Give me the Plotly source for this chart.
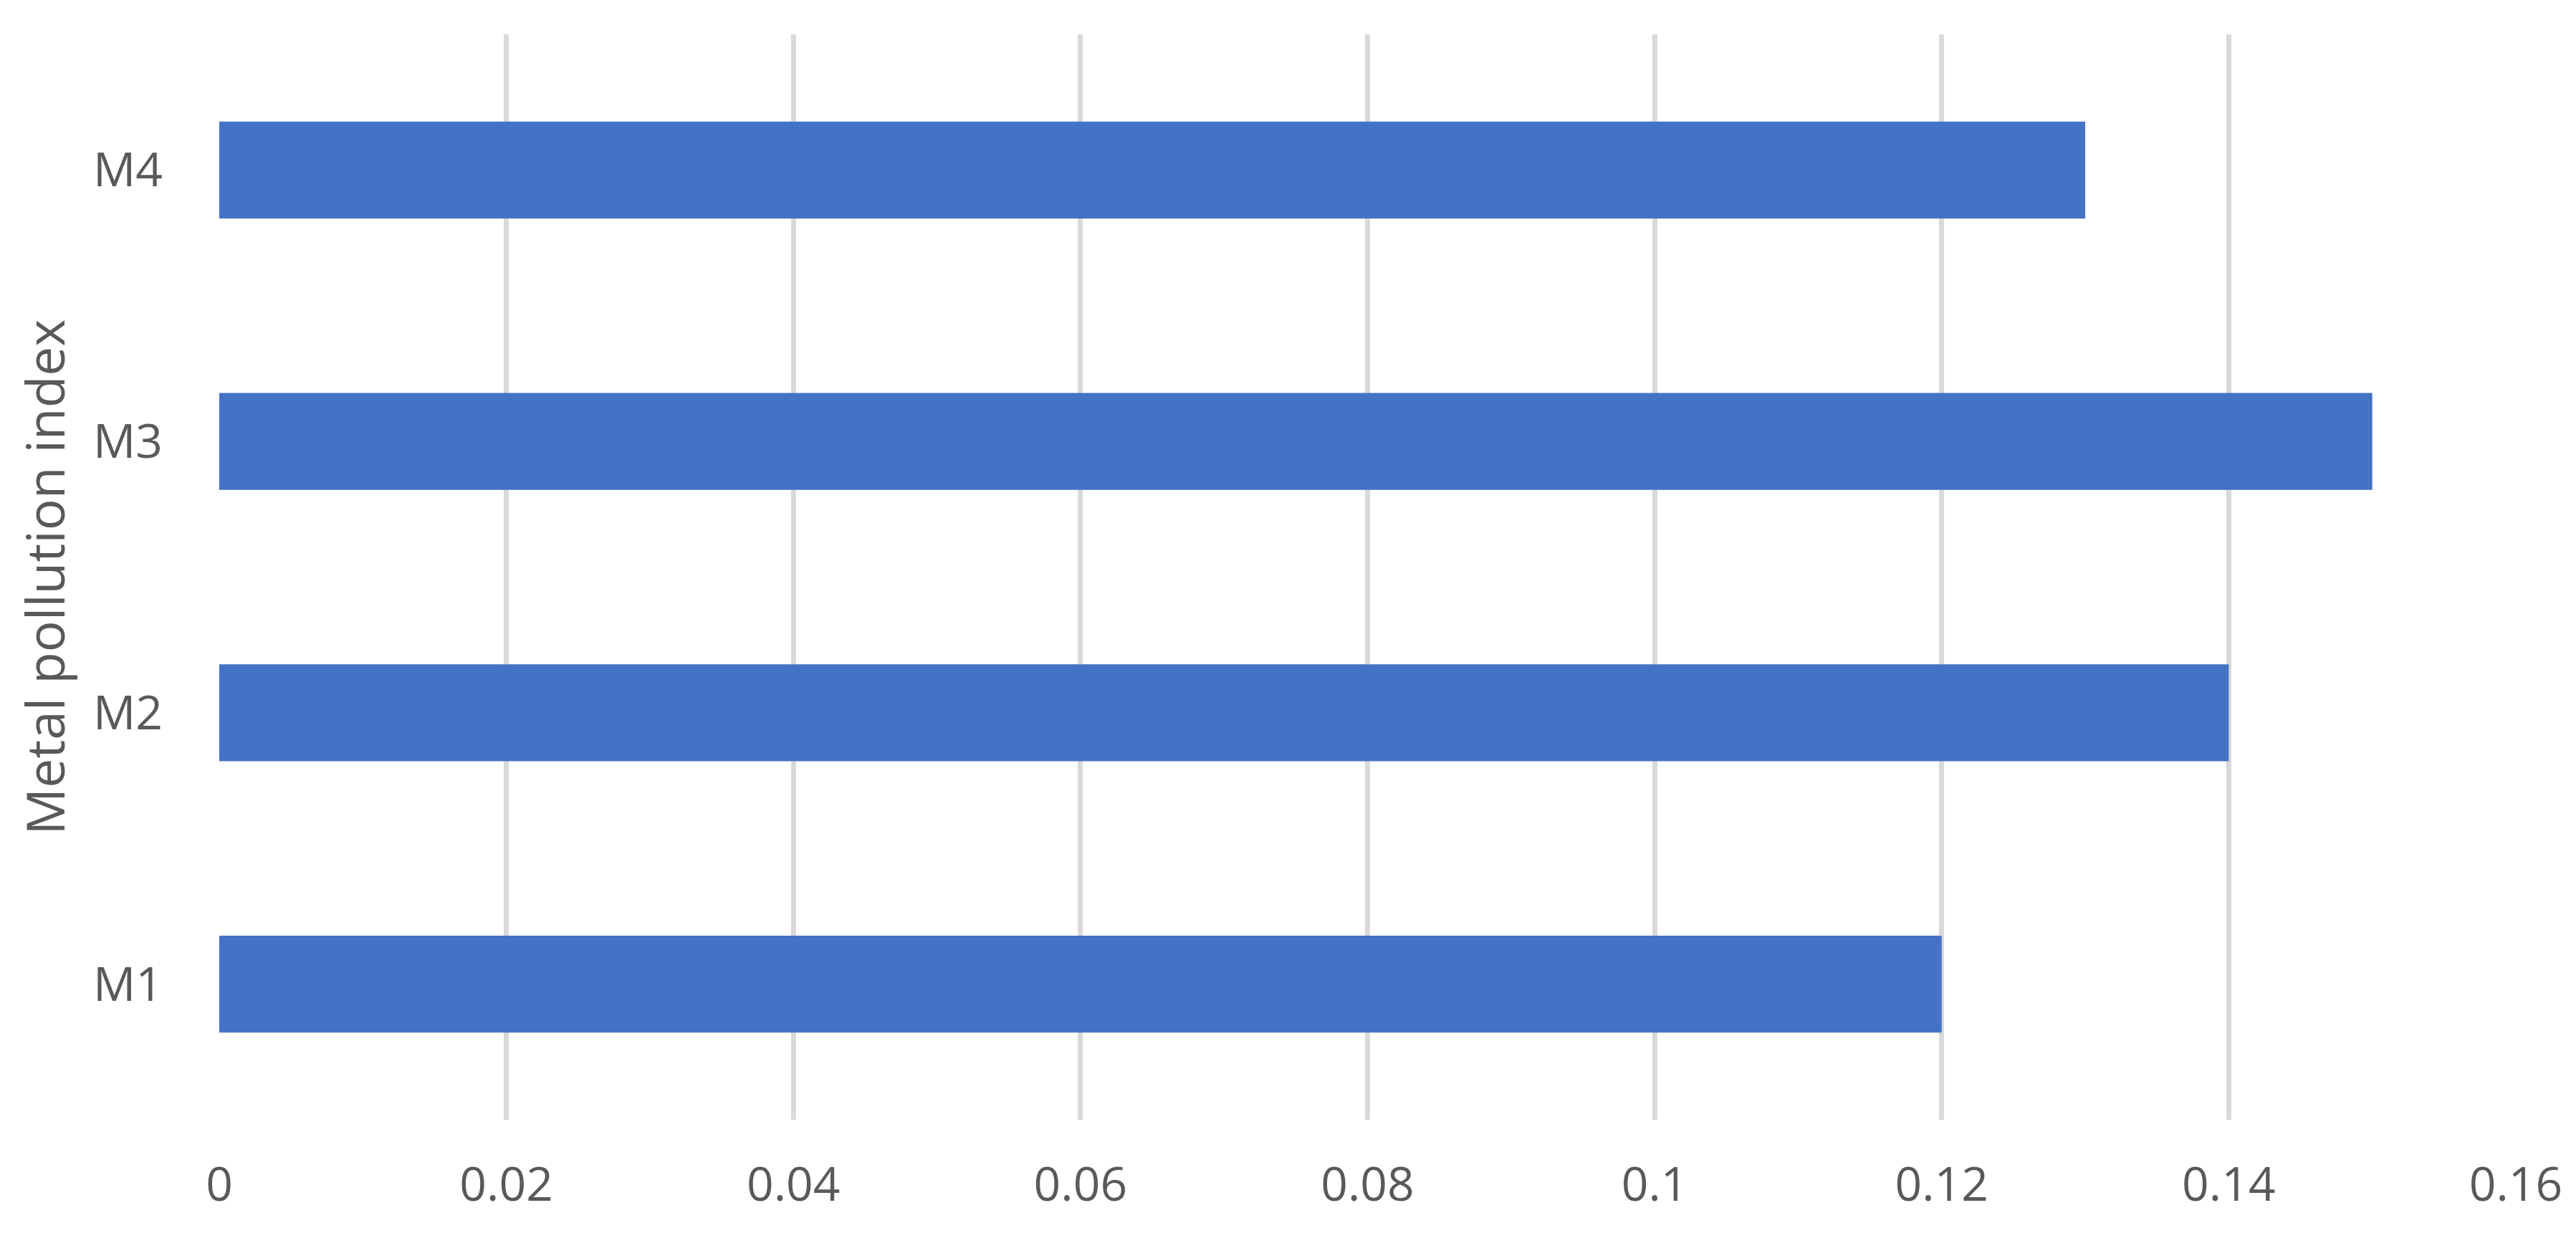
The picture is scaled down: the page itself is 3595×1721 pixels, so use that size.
import plotly.graph_objects as go

categories = ["M1", "M2", "M3", "M4"]
values = [0.12, 0.14, 0.15, 0.13]
x_ticks = [0, 0.02, 0.04, 0.06, 0.08, 0.1, 0.12, 0.14, 0.16]
x_tick_labels = ["0", "0.02", "0.04", "0.06", "0.08", "0.1", "0.12", "0.14", "0.16"]
y_title = "Metal pollution index"

FONT = "Open Sans"
TXT = "#595959"

fig = go.Figure()
fig.add_trace(go.Bar(
    x=values, y=categories, orientation="h",
    marker=dict(color="#4472C4", line=dict(width=0)),
    hoverinfo="x+y",
))

fig.update_layout(
    width=3595, height=1721,
    margin=dict(l=298, r=92, t=40, b=166, autoexpand=False),
    paper_bgcolor="white", plot_bgcolor="white",
    bargap=0.643,
    showlegend=False,
    font=dict(family=FONT, color=TXT, size=66),
)
fig.update_xaxes(
    range=[0, 0.16], tickvals=x_ticks, ticktext=x_tick_labels,
    showgrid=True, gridcolor="#D9D9D9", gridwidth=7,
    zeroline=False, showline=False, ticks="",
    ticklabelstandoff=46,
    tickfont=dict(family=FONT, color=TXT, size=66),
)
fig.update_yaxes(
    type="category", categoryorder="array", categoryarray=categories,
    showgrid=False, zeroline=False, showline=False, ticks="",
    ticklabelstandoff=78,
    tickfont=dict(family=FONT, color=TXT, size=66),
    title=dict(text=y_title, font=dict(family=FONT, color=TXT, size=73)),
)

fig.write_html("out.html")
